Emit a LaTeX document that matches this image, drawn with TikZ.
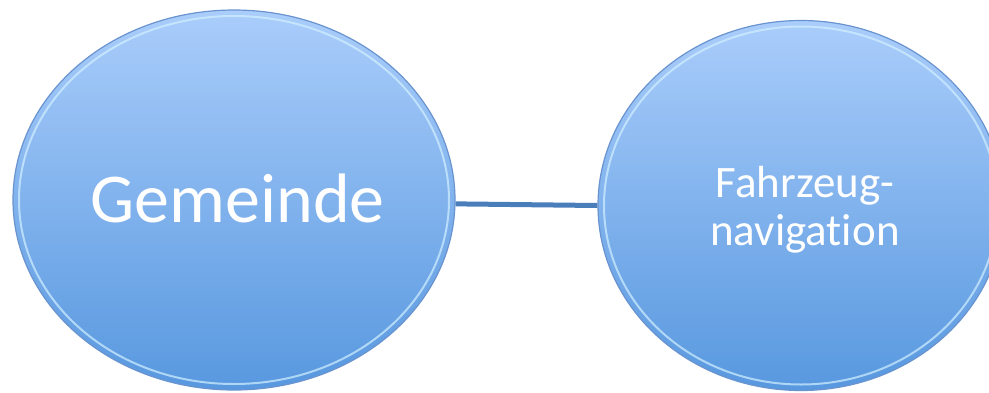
\documentclass[tikz,border=0pt]{standalone}
\usepackage{fontspec}
\setmainfont{Carlito}[Ligatures=NoCommon]
\usetikzlibrary{shapes.geometric}
\definecolor{topblue}{HTML}{AACDFB}
\definecolor{botblue}{HTML}{5898DF}
\definecolor{rimdark}{HTML}{6A94CF}
\definecolor{rimlight}{HTML}{D2F0FF}
\definecolor{connblue}{HTML}{4A7EBB}
\tikzset{
  bubble/.style={ellipse, inner sep=0pt, top color=topblue, bottom color=botblue, draw=rimdark, line width=1.2pt},
  rim/.style={draw=rimlight, line width=2pt, opacity=0.7},
  conn/.style={draw=connblue, line width=5pt},
  label/.style={text=white, inner sep=0pt}
}
\begin{document}
\begin{tikzpicture}[x=1pt,y=1pt]
\useasboundingbox (0,0) rectangle (989,-392);
\node[bubble, minimum width=442pt, minimum height=380pt] (L) at (234,-200) {};
\node[bubble, minimum width=406pt, minimum height=370pt] (R) at (801,-205.5) {};
\draw[rim] (L.center) ellipse [x radius=215, y radius=184];
\draw[rim] (R.center) ellipse [x radius=197, y radius=179];
\draw[conn] (L.-1) -- (R.west);
\node[label, font=\fontsize{70pt}{80pt}\selectfont, anchor=base] (t1) at (237.5,-222) {Gemeinde};
\node[label, font=\fontsize{45pt}{48pt}\selectfont, align=center] (t2) at (805,-210) {Fahrzeug-\\navigation};
\end{tikzpicture}
\end{document}
